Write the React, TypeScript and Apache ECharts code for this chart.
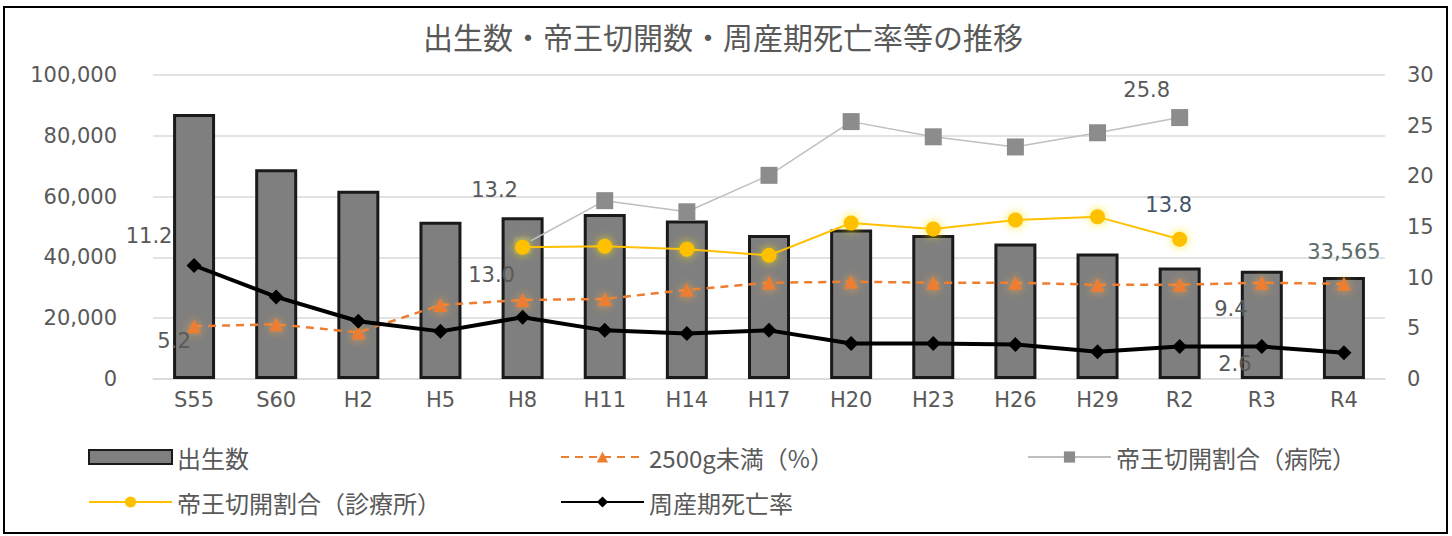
import React, { useEffect, useRef } from "react";
import * as echarts from "echarts";

const categories = ["S55", "S60", "H2", "H5", "H8", "H11", "H14", "H17", "H20", "H23", "H26", "H29", "R2", "R3", "R4"];
const births = [87200, 69000, 61900, 51700, 53200, 54300, 52100, 47400, 49200, 47400, 44600, 41300, 36700, 35600, 33565];
const lowWeight = [5.2, 5.4, 4.6, 7.3, 7.8, 7.9, 8.8, 9.5, 9.6, 9.5, 9.5, 9.3, 9.3, 9.5, 9.4];
const csHospital = [null, null, null, null, 13.2, 17.6, 16.5, 20.1, 25.4, 23.9, 22.9, 24.3, 25.8, null, null];
const csClinic = [null, null, null, null, 13.0, 13.1, 12.8, 12.2, 15.4, 14.8, 15.7, 16.0, 13.8, null, null];
const perinatal = [11.2, 8.1, 5.7, 4.7, 6.1, 4.8, 4.5, 4.8, 3.5, 3.5, 3.4, 2.7, 3.2, 3.2, 2.6];
const leftTicks = { min: 0, max: 100000, interval: 20000 };
const rightTicks = { min: 0, max: 30, interval: 5 };

const NAMES = {
  births: "出生数",
  low: "2500g未満（%）",
  hosp: "帝王切開割合（病院）",
  clinic: "帝王切開割合（診療所）",
  peri: "周産期死亡率",
};

const NUM_FONT = "DejaVu Sans";
const CJK_FONT = "'Noto Sans CJK JP', sans-serif";
const TEXT = "#595959";

function lbl(dx: number, dy: number, color = TEXT) {
  return {
    show: true,
    position: "inside",
    offset: [dx, dy],
    formatter: (p: any) => Number(p.value).toFixed(1),
    fontSize: 21,
    fontFamily: NUM_FONT,
    color,
  };
}

function withLabels(arr: (number | null)[], labels: Record<number, any>) {
  return arr.map((v, i) => {
    if (v === null) return "-";
    if (labels[i]) return { value: v, label: labels[i] };
    return v;
  });
}

export default function App() {
  const ref = useRef<HTMLDivElement>(null);
  useEffect(() => {
    if (!ref.current) return;
    const chart = echarts.init(ref.current, null, { renderer: "svg" });
    const last = births.length - 1;
    const legendText = { fontFamily: CJK_FONT, fontSize: 24, color: TEXT };
    const mkLegend = (name: string, left: number, top: number, icon?: string) => ({
      data: [icon ? { name, icon } : name],
      left,
      top,
      padding: 0,
      itemWidth: 83,
      itemHeight: 14,
      textStyle: legendText,
      selectedMode: false,
    });
    chart.setOption({
      animation: false,
      backgroundColor: "#ffffff",
      title: {
        text: "出生数・帝王切開数・周産期死亡率等の推移",
        left: 718,
        top: 16,
        textAlign: "center",
        textStyle: { fontFamily: CJK_FONT, fontSize: 30, fontWeight: "normal", color: TEXT },
      },
      graphic: [
        {
          type: "rect",
          shape: { x: 4, y: 7, width: 1443, height: 526 },
          style: { fill: "none", stroke: "#000", lineWidth: 2 },
          silent: true,
          z: -1,
        },
      ],
      legend: [
        mkLegend(NAMES.births, 88, 445, "rect"),
        mkLegend(NAMES.low, 560, 445),
        mkLegend(NAMES.hosp, 1027, 445),
        mkLegend(NAMES.clinic, 88, 490),
        mkLegend(NAMES.peri, 560, 490),
      ],
      grid: { left: 153, right: 67, top: 75, bottom: 157 },
      xAxis: {
        type: "category",
        data: categories,
        axisTick: { show: false },
        axisLine: { show: true, lineStyle: { color: "#d9d9d9", width: 1.5 } },
        axisLabel: { fontFamily: NUM_FONT, fontSize: 21, color: TEXT, margin: 10 },
      },
      yAxis: [
        {
          type: "value",
          ...leftTicks,
          axisLine: { show: false },
          axisTick: { show: false },
          splitLine: { show: true, lineStyle: { color: "#d9d9d9", width: 1.5 } },
          axisLabel: {
            fontFamily: NUM_FONT,
            fontSize: 21,
            color: TEXT,
            margin: 36,
            formatter: (v: number) => v.toLocaleString("en-US"),
          },
        },
        {
          type: "value",
          ...rightTicks,
          axisLine: { show: false },
          axisTick: { show: false },
          splitLine: { show: false },
          axisLabel: { fontFamily: NUM_FONT, fontSize: 21, color: TEXT, margin: 22 },
        },
      ],
      series: [
        {
          name: NAMES.births,
          type: "bar",
          barWidth: 42,
          yAxisIndex: 0,
          itemStyle: { color: "#7f7f7f", borderColor: "#1a1a1a", borderWidth: 3 },
          data: births.map((v, i) =>
            i === last
              ? {
                  value: v,
                  label: {
                    show: true,
                    position: "top",
                    distance: 14,
                    fontFamily: NUM_FONT,
                    fontSize: 21,
                    color: "#5a6b6b",
                    formatter: (p: any) => Number(p.value).toLocaleString("en-US"),
                  },
                }
              : v
          ),
          z: 1,
        },
        {
          name: NAMES.low,
          type: "line",
          yAxisIndex: 1,
          symbol: "triangle",
          symbolSize: 14,
          lineStyle: { color: "#ed7d31", width: 2.5, type: [8, 6] },
          itemStyle: { color: "#ed7d31", shadowBlur: 10, shadowColor: "rgba(255,170,60,0.8)" },
          data: withLabels(lowWeight, { 0: lbl(-20, 15), [last]: lbl(-113, 25) }),
          z: 3,
        },
        {
          name: NAMES.hosp,
          type: "line",
          yAxisIndex: 1,
          symbol: "rect",
          symbolSize: 17,
          lineStyle: { color: "#bfbfbf", width: 1.5 },
          itemStyle: { color: "#8c8c8c" },
          data: withLabels(csHospital, { 4: lbl(-28, -55), 12: lbl(-33, -28) }),
          z: 4,
        },
        {
          name: NAMES.clinic,
          type: "line",
          yAxisIndex: 1,
          symbol: "circle",
          symbolSize: 15,
          lineStyle: { color: "#ffc000", width: 2 },
          itemStyle: { color: "#ffc000", shadowBlur: 10, shadowColor: "rgba(255,230,0,0.8)" },
          data: withLabels(csClinic, { 4: lbl(-31, 28), 12: lbl(-11, -34, "#44546a") }),
          z: 5,
        },
        {
          name: NAMES.peri,
          type: "line",
          yAxisIndex: 1,
          symbol: "diamond",
          symbolSize: 15,
          lineStyle: { color: "#000000", width: 4 },
          itemStyle: { color: "#000000" },
          data: withLabels(perinatal, { 0: lbl(-45, -30), [last]: lbl(-109, 11) }),
          z: 6,
        },
      ],
    });
    return () => chart.dispose();
  }, []);
  return (
    <div
      ref={ref}
      style={{ position: "fixed", left: 0, top: 0, width: 1452, height: 536, background: "#fff" }}
    />
  );
}
